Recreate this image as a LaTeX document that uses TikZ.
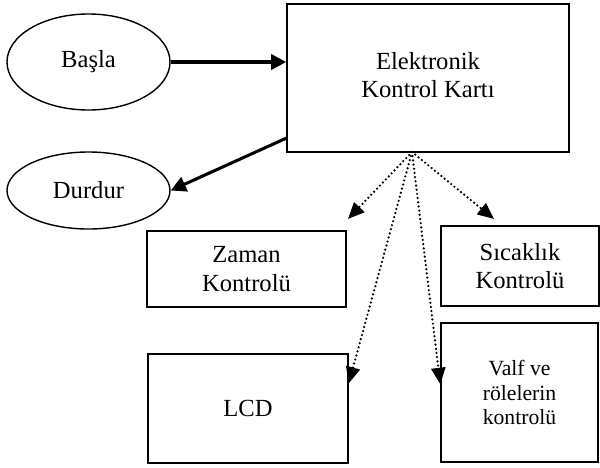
\documentclass[tikz,border=0pt]{standalone}
\usepackage{fontspec}
\setmainfont{Liberation Serif}
\usetikzlibrary{shapes.geometric, arrows.meta}

\begin{document}
\begin{tikzpicture}[x=0.03cm, y=-0.03cm, line width=1.2pt,
    box/.style={draw, rectangle, inner sep=0pt, align=center,
      font=\fontsize{21}{24}\selectfont},
    oval/.style={draw, ellipse, inner sep=0pt,
      minimum width=4.89cm, font=\fontsize{21}{24}\selectfont},
    solidarrow/.style={line width=2.6pt, -{Triangle[length=13pt, width=13pt]}},
    dotarrow/.style={line width=2.1pt, line cap=round, dash pattern=on 0pt off 3.6pt,
      -{Triangle[length=14pt, width=12pt]}}]
  \useasboundingbox (0, 0) rectangle (600, 467);

  \node[oval, minimum height=2.88cm] (basla) at (88.5, 62) {Başla};
  \node[oval, minimum height=2.31cm] (durdur) at (88.5, 190.5) {Durdur};

  \node[box, minimum width=8.46cm, minimum height=4.44cm] (kart) at (428, 78)
    {\raisebox{5pt}{\begin{tabular}{@{}c@{}}Elektronik\\Kontrol Kartı\end{tabular}}};
  \node[box, minimum width=5.97cm, minimum height=2.28cm] (zaman) at (246.5, 269)
    {Zaman\\Kontrolü};
  \node[box, minimum width=6cm, minimum height=3.27cm] (lcd) at (248, 408.5) {LCD};
  \node[box, minimum width=4.74cm, minimum height=2.4cm] (sicaklik) at (520, 266)
    {Sıcaklık\\Kontrolü};
  \node[box, minimum width=4.71cm, minimum height=4.17cm,
    font=\fontsize{18.5}{21}\selectfont] (valf) at (519.5, 392.5)
    {Valf ve\\rölelerin\\kontrolü};

  \draw[solidarrow] (basla.east) -- (basla.east -| kart.west);
  \draw[solidarrow] (kart.203) -- (durdur.east);

  \coordinate (hub) at (412, 152);
  \coordinate (tipz) at (348, 219);
  \coordinate (tips) at (494, 219);
  \draw[dotarrow] (hub) -- (tipz);
  \draw[dotarrow] (hub) -- (tips);
  \draw[dotarrow] (hub) -- (lcd.14);
  \draw[dotarrow] (hub) -- (valf.174);
\end{tikzpicture}
\end{document}
